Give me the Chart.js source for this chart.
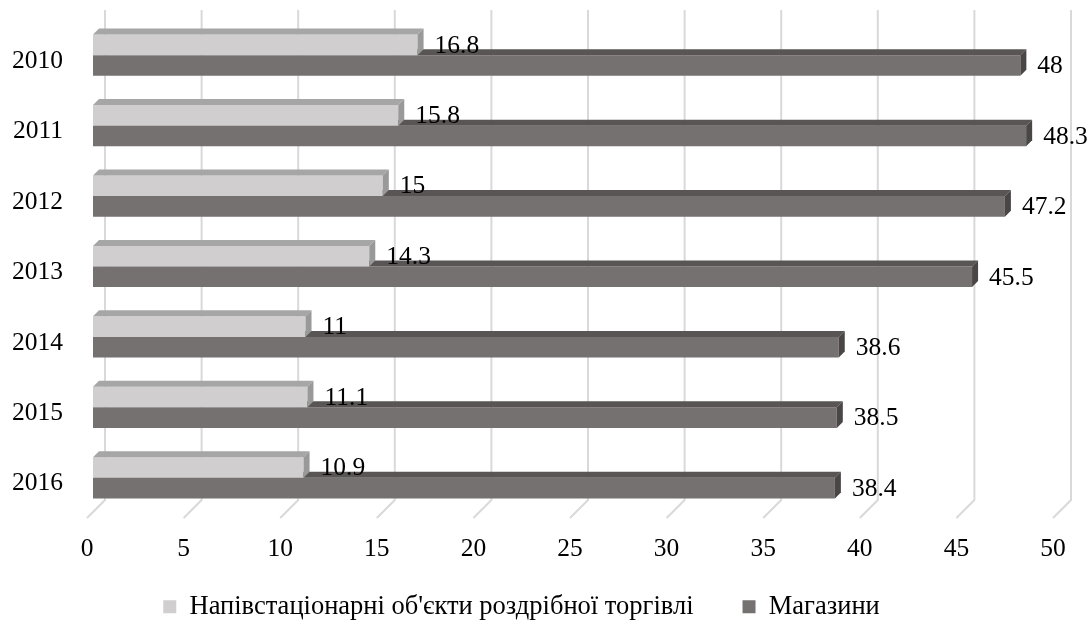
<!DOCTYPE html>
<html>
<head>
<meta charset="utf-8">
<script src="https://cdn.jsdelivr.net/npm/chart.js@4.4.1/dist/chart.umd.min.js"></script>
<style>
  html, body { margin: 0; padding: 0; background: #ffffff; }
  #wrap { width: 1091px; height: 624px; }
</style>
</head>
<body>
<div id="wrap"><canvas id="chart" width="1091" height="624"></canvas></div>
<script>
// Years shown on the category axis
const years = ['2010', '2011', '2012', '2013', '2014', '2015', '2016'];
// Semi-stationary retail outlets
const semiStationary = [16.8, 15.8, 15, 14.3, 11, 11.1, 10.9];
// Shops
const shops = [48, 48.3, 47.2, 45.5, 38.6, 38.5, 38.4];
// Series names
const seriesNames = ["Напівстаціонарні об'єкти роздрібної торгівлі", 'Магазини'];
// Value axis range
const valueMin = 0;
const valueMax = 50;
const valueStep = 5;

const FONT = 'Liberation Serif, "Times New Roman", serif';
const TEXT_SIZE = 25.5;
const LEGEND_SIZE = 26.5;
const DEPTH = 6;          // extrusion of each bar
const FLOOR = 18;         // depth of the floor / back wall offset
const LEFT_SHIFT = 16;    // legend sits a little left of the canvas centre

// Faux 3-D: back-wall gridlines, floor diagonals, bar top/side faces and value labels
const bar3d = {
  id: 'bar3d',
  beforeDraw(chart) {
    // let the value-axis labels extend past the axis box
    chart.scales.x._computeLabelArea = () => undefined;
  },
  beforeDatasetsDraw(chart) {
    const { ctx, chartArea } = chart;
    const xs = chart.scales.x;
    ctx.save();
    ctx.strokeStyle = '#d9d9d9';
    ctx.lineWidth = 2;
    xs.ticks.forEach(t => {
      const px = xs.getPixelForValue(t.value);
      const backX = px + 2 * DEPTH;
      const backBottom = chartArea.bottom - 13;
      ctx.beginPath();
      ctx.moveTo(backX, chartArea.top - 10);
      ctx.lineTo(backX, backBottom);
      ctx.lineTo(backX - FLOOR, backBottom + FLOOR);
      ctx.stroke();
    });
    ctx.restore();
  },
  afterDatasetDraw(chart, args) {
    const { ctx } = chart;
    const ds = chart.data.datasets[args.index];
    const d = DEPTH;
    ctx.save();
    args.meta.data.forEach(bar => {
      const { x, y, base, height } = bar.getProps(['x', 'y', 'base', 'height'], true);
      const top = y - height / 2;
      const bottom = y + height / 2;
      ctx.fillStyle = ds.topColor;
      ctx.beginPath();
      ctx.moveTo(base, top);
      ctx.lineTo(base + d, top - d);
      ctx.lineTo(x + d, top - d);
      ctx.lineTo(x, top);
      ctx.closePath();
      ctx.fill();
      ctx.fillStyle = ds.sideColor;
      ctx.beginPath();
      ctx.moveTo(x, top);
      ctx.lineTo(x + d, top - d);
      ctx.lineTo(x + d, bottom - d);
      ctx.lineTo(x, bottom);
      ctx.closePath();
      ctx.fill();
    });
    ctx.restore();
  },
  afterDatasetsDraw(chart) {
    const { ctx } = chart;
    ctx.save();
    ctx.fillStyle = '#000000';
    ctx.font = TEXT_SIZE + 'px ' + FONT;
    ctx.textAlign = 'left';
    ctx.textBaseline = 'middle';
    chart.data.datasets.forEach((ds, i) => {
      const meta = chart.getDatasetMeta(i);
      meta.data.forEach((bar, j) => {
        const { x, y } = bar.getProps(['x', 'y'], true);
        ctx.fillText(String(ds.data[j]), x + DEPTH + 11, y + 1);
      });
    });
    ctx.restore();
  }
};

new Chart(document.getElementById('chart'), {
  type: 'bar',
  data: {
    labels: years,
    datasets: [
      {
        label: seriesNames[0],
        data: semiStationary,
        backgroundColor: '#d0cece',
        topColor: '#a6a6a6',
        sideColor: '#999999',
        borderWidth: 0,
        barPercentage: 1,
        categoryPercentage: 0.585
      },
      {
        label: seriesNames[1],
        data: shops,
        backgroundColor: '#767171',
        topColor: '#595555',
        sideColor: '#4a4646',
        borderWidth: 0,
        barPercentage: 1,
        categoryPercentage: 0.585
      }
    ]
  },
  options: {
    indexAxis: 'y',
    responsive: false,
    devicePixelRatio: 1,
    animation: false,
    layout: { padding: { left: -LEFT_SHIFT, right: 32, top: 20, bottom: -6 } },
    scales: {
      x: {
        min: valueMin,
        max: valueMax,
        ticks: {
          stepSize: valueStep,
          color: '#000000',
          font: { family: FONT, size: TEXT_SIZE },
          padding: 21,
          labelOffset: -DEPTH,
          maxRotation: 0
        },
        grid: { display: false, drawTicks: false },
        border: { display: false },
        afterFit(scale) {
          scale.height = 31.5;
          scale.paddingLeft = 0;
          scale.paddingRight = 0;
        }
      },
      y: {
        ticks: {
          color: '#000000',
          font: { family: FONT, size: TEXT_SIZE },
          padding: 30,
          labelOffset: 6
        },
        grid: { display: false, drawTicks: false },
        border: { display: false },
        afterFit(scale) {
          scale.width = 93 + LEFT_SHIFT;
          scale.paddingTop = 0;
          scale.paddingBottom = 0;
        }
      }
    },
    plugins: {
      legend: {
        position: 'bottom',
        labels: {
          color: '#000000',
          font: { family: FONT, size: LEGEND_SIZE },
          boxWidth: 13,
          boxHeight: 13,
          padding: 49
        }
      },
      tooltip: { enabled: false }
    }
  },
  plugins: [bar3d]
});
</script>
</body>
</html>
